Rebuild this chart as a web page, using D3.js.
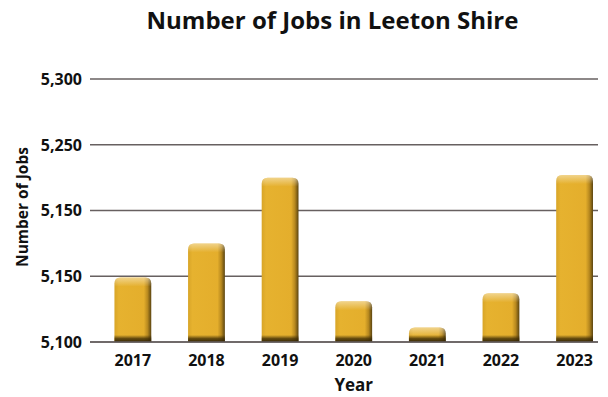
<!DOCTYPE html>
<html><head><meta charset="utf-8">
<script src="https://cdn.jsdelivr.net/npm/d3@7"></script>
<style>
html,body{margin:0;padding:0;background:#fff;}
svg{display:block;font-family:"Open Sans",sans-serif;}
</style></head>
<body><svg id="c" width="608" height="397"></svg>
<script>
const years = ["2017","2018","2019","2020","2021","2022","2023"];
const jobs = [5149, 5175, 5225, 5131, 5111, 5137, 5227];
const tickValues = [5100, 5150, 5200, 5250, 5300];
const tickLabels = ["5,100", "5,150", "5,150", "5,250", "5,300"];
const title = "Number of Jobs in Leeton Shire";
const xTitle = "Year";
const yTitle = "Number of Jobs";

const svg = d3.select("#c");
const plot = {left: 90, right: 598, top: 79, bottom: 342};

const x = d3.scaleBand().domain(years).range([plot.left, plot.right])
  .paddingInner(0.5).paddingOuter(0.2).align(0.83);
const y = d3.scaleLinear().domain([5100, 5300]).range([plot.bottom, plot.top]);

const defs = svg.append("defs");
const hg = defs.append("linearGradient").attr("id","hg").attr("x1",0).attr("x2",1).attr("y1",0).attr("y2",0);
[[0,"#d8a528"],[0.12,"#e6b22f"],[0.8,"#e4ae2c"],[0.9,"#b8891f"],[1,"#5a4410"]]
  .forEach(([o,c])=>hg.append("stop").attr("offset",o).attr("stop-color",c));
const tg = defs.append("linearGradient").attr("id","tg").attr("x1",0).attr("x2",0).attr("y1",0).attr("y2",1);
[[0,"#fff",0.45],[1,"#fff",0]].forEach(([o,c,a])=>tg.append("stop").attr("offset",o).attr("stop-color",c).attr("stop-opacity",a));
const bg = defs.append("linearGradient").attr("id","bg").attr("x1",0).attr("x2",0).attr("y1",0).attr("y2",1);
[[0,"#3a2a05",0],[0.5,"#3a2a05",0.75],[1,"#2a1e03",0.95]].forEach(([o,c,a])=>bg.append("stop").attr("offset",o).attr("stop-color",c).attr("stop-opacity",a));

// grid lines
svg.append("g").selectAll("line").data(tickValues).join("line")
  .attr("x1", plot.left).attr("x2", plot.right)
  .attr("y1", d=>y(d)).attr("y2", d=>y(d))
  .attr("stroke","#676060").attr("stroke-width",1.3);

// y labels
svg.append("g").selectAll("text").data(tickValues).join("text")
  .attr("x", 82).attr("y", d=>y(d)).attr("dy","0.36em")
  .attr("text-anchor","end").attr("font-size",16).attr("font-weight",700).attr("fill","#111")
  .text((d,i)=>tickLabels[i]);

function topRounded(x0, y0, w, h, r) {
  r = Math.min(r, h, w/2);
  const p = d3.path();
  p.moveTo(x0, y0 + h);
  p.lineTo(x0, y0 + r);
  p.quadraticCurveTo(x0, y0, x0 + r, y0);
  p.lineTo(x0 + w - r, y0);
  p.quadraticCurveTo(x0 + w, y0, x0 + w, y0 + r);
  p.lineTo(x0 + w, y0 + h);
  p.closePath();
  return p.toString();
}

const bars = svg.append("g").selectAll("g").data(years.map((yr,i)=>({yr, v: jobs[i]}))).join("g");
bars.append("path")
  .attr("d", d => topRounded(x(d.yr), y(d.v), x.bandwidth(), y(5100) - y(d.v), 6))
  .attr("fill","url(#hg)");
bars.append("path")
  .attr("d", d => { const h = y(5100) - y(d.v); return topRounded(x(d.yr), y(d.v), x.bandwidth(), Math.min(9, h), 6); })
  .attr("fill","url(#tg)");
bars.append("rect")
  .attr("x", d => x(d.yr)).attr("width", x.bandwidth())
  .attr("y", d => y(5100) - Math.min(7, y(5100) - y(d.v)))
  .attr("height", d => Math.min(7, y(5100) - y(d.v)))
  .attr("fill","url(#bg)");

// baseline redraw
svg.append("line").attr("x1",plot.left).attr("x2",plot.right)
  .attr("y1",y(5100)).attr("y2",y(5100)).attr("stroke","#676060").attr("stroke-width",1.3);

// x labels
svg.append("g").selectAll("text").data(years).join("text")
  .attr("x", d => x(d) + x.bandwidth()/2).attr("y", 366)
  .attr("text-anchor","middle").attr("font-size",16).attr("font-weight",700).attr("fill","#111")
  .text(d=>d);

const xs = x(years[0]), xe = x(years[years.length-1]) + x.bandwidth();
svg.append("text").attr("x",(xs+xe)/2).attr("y",391).attr("text-anchor","middle")
  .attr("font-size",17).attr("font-weight",700).attr("fill","#111").text(xTitle);

svg.append("text").attr("transform","translate(28,207) rotate(-90)").attr("text-anchor","middle")
  .attr("font-size",15.5).attr("font-weight",700).attr("fill","#111").text(yTitle);

svg.append("text").attr("x",332.5).attr("y",29).attr("text-anchor","middle")
  .attr("font-size",24).attr("font-weight",700).attr("fill","#111").text(title);
</script></body></html>
